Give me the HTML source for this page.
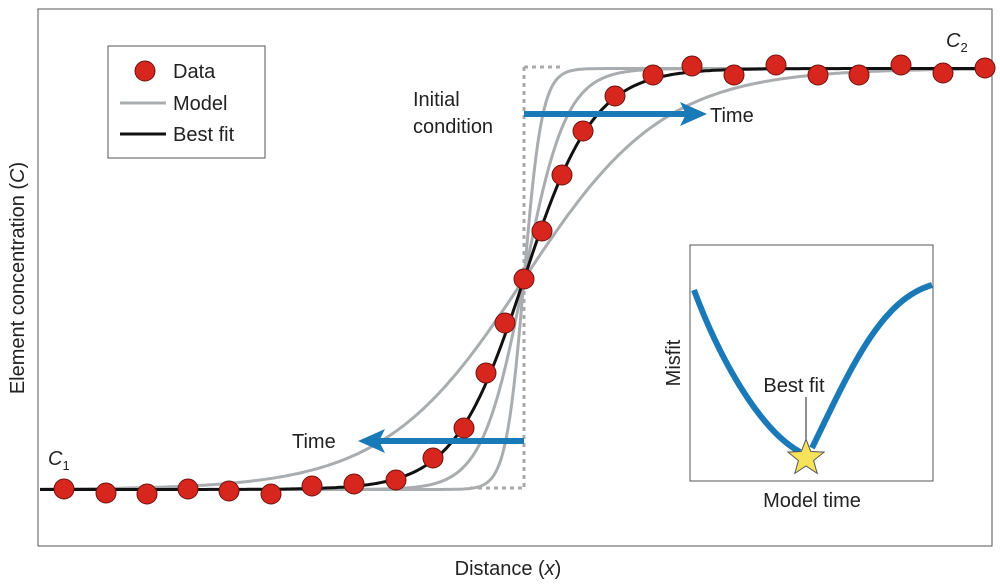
<!DOCTYPE html>
<html><head><meta charset="utf-8"><style>
html,body{margin:0;padding:0;background:#fff;}
svg{display:block;font-family:"Liberation Sans","DejaVu Sans",sans-serif;}
</style></head><body>
<svg id="s" width="1000" height="584" viewBox="0 0 1000 584" xmlns="http://www.w3.org/2000/svg">
<rect x="38" y="9" width="954" height="537" fill="#fff" stroke="#555" stroke-width="1"/>
<g id="curves"></g>
<path d="M524 67 V488" stroke="#aaa" stroke-width="3" stroke-dasharray="4,4" fill="none"/>
<path d="M524 67 H560" stroke="#aaa" stroke-width="3" stroke-dasharray="4,4" fill="none"/>
<path d="M470 488 H524" stroke="#aaa" stroke-width="3" stroke-dasharray="4,4" fill="none"/>
<line x1="524" y1="114" x2="690" y2="114" stroke="#1a7ab8" stroke-width="6"/>
<polygon points="707,114 680,102 686,114 680,126" fill="#1a7ab8"/>
<line x1="524" y1="441" x2="375" y2="441" stroke="#1a7ab8" stroke-width="6"/>
<polygon points="358,441 385,429 379,441 385,453" fill="#1a7ab8"/>
<g id="pts"></g>
<text x="710" y="122" font-size="20" fill="#222">Time</text>
<text x="292" y="448" font-size="20" fill="#222">Time</text>
<text x="413" y="106" font-size="20" fill="#222">Initial</text>
<text x="413" y="133" font-size="20" fill="#222">condition</text>
<text x="48" y="465" font-size="20" font-style="italic" fill="#222">C<tspan font-size="13" dy="5" font-style="normal">1</tspan></text>
<text x="946" y="47" font-size="20" font-style="italic" fill="#222">C<tspan font-size="13" dy="5" font-style="normal">2</tspan></text>
<rect x="108" y="46" width="157" height="112" fill="#fff" stroke="#555"/>
<circle cx="145" cy="71" r="10" fill="#d7261e" stroke="#6a1410"/>
<text x="173" y="78" font-size="20" fill="#222">Data</text>
<line x1="120" y1="103" x2="166" y2="103" stroke="#a9adb0" stroke-width="3"/>
<text x="173" y="110" font-size="20" fill="#222">Model</text>
<line x1="120" y1="134" x2="166" y2="134" stroke="#111" stroke-width="3"/>
<text x="173" y="141" font-size="20" fill="#222">Best fit</text>
<rect x="690" y="245" width="243" height="236" fill="#fff" stroke="#555"/>
<path d="M694 290 C720 360,760 430,800 452" stroke="#1a7ab8" stroke-width="6" fill="none"/>
<path d="M812 448 C850 370,880 300,932 285" stroke="#1a7ab8" stroke-width="6" fill="none"/>
<line x1="806" y1="397" x2="806" y2="440" stroke="#222" stroke-width="1"/>
<polygon id="star" fill="#f7e35a" stroke="#555" stroke-width="1"/>
<text x="794" y="392" font-size="20" text-anchor="middle" fill="#222">Best fit</text>
<text x="812" y="507" font-size="20" text-anchor="middle" fill="#222">Model time</text>
<text transform="translate(680,363) rotate(-90)" font-size="20" text-anchor="middle" fill="#222">Misfit</text>
<text x="508" y="575" font-size="20" text-anchor="middle" fill="#222">Distance (<tspan font-style="italic">x</tspan>)</text>
<text transform="translate(24,278) rotate(-90)" font-size="20" text-anchor="middle" fill="#222">Element concentration (<tspan font-style="italic">C</tspan>)</text>
</svg>
<script>
function path(w){var d="";for(var x=40;x<=990;x+=2){var y=279-210.5*Math.tanh((x-524)/w);d+=(x==40?"M":"L")+x+" "+y.toFixed(1);}return d;}
var g=document.getElementById("curves"),h="";
[18,42,140].forEach(function(w){h+='<path d="'+path(w)+'" stroke="#a9adb0" stroke-width="3" fill="none"/>';});
h+='<path d="'+path(70)+'" stroke="#111" stroke-width="3" fill="none"/>';
g.innerHTML=h;
var P=[[64,489],[106,493],[147,494],[188,489],[229,491],[271,494],[312,486],[354,484],[396,480],[433,458],[464,428],[486,373],[505,323],[524,279],[542,231],[562,175],[583,131],[615,96],[653,75],[692,66],[734,75],[776,65],[818,75],[859,75],[901,65],[943,73],[985,68]];
var s="";P.forEach(function(p){s+='<circle cx="'+p[0]+'" cy="'+p[1]+'" r="10" fill="#d7261e" stroke="#6a1410" stroke-width="1"/>';});
document.getElementById("pts").innerHTML=s;
var st=[],cx=806,cy=458;for(var i=0;i<10;i++){var r=i%2?8:19,a=-Math.PI/2+i*Math.PI/5;st.push((cx+r*Math.cos(a)).toFixed(1)+","+(cy+r*Math.sin(a)).toFixed(1));}
document.getElementById("star").setAttribute("points",st.join(" "));
</script>
</body></html>
